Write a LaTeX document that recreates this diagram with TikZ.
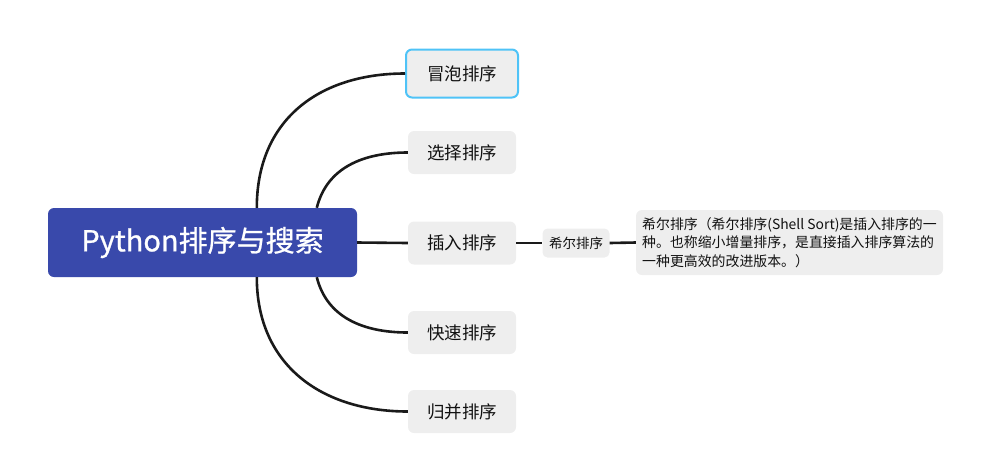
\documentclass[tikz,border=0pt]{standalone}
\usepackage{fontspec}
\setmainfont{Noto Sans CJK SC}
\newfontfamily\rootfont{Noto Sans CJK SC}[FakeBold=0.8]
\usetikzlibrary{calc}
\definecolor{rootblue}{HTML}{3949AB}
\definecolor{boxgray}{HTML}{EEEEEE}
\definecolor{selblue}{HTML}{4FC3F7}
\definecolor{linec}{HTML}{1A1A1A}
\definecolor{txt}{HTML}{111111}
\tikzset{
  rootbox/.style={fill=rootblue, rounded corners=6pt, minimum width=309pt, minimum height=69pt, inner sep=0pt, text=white, font=\rootfont\fontsize{29}{33}\selectfont},
  childbox/.style={fill=boxgray, rounded corners=6pt, minimum width=108pt, minimum height=43pt, inner sep=0pt, text=txt, font=\fontsize{17.5}{20}\selectfont},
  smallbox/.style={fill=boxgray, rounded corners=5pt, minimum width=67pt, minimum height=29pt, inner sep=0pt, text=txt, font=\fontsize{13.5}{16}\selectfont},
  notebox/.style={fill=boxgray, rounded corners=6pt, minimum width=307pt, minimum height=65pt, inner xsep=5pt, inner ysep=0pt, text=txt, align=left, font=\fontsize{13.9}{18.3}\selectfont},
  conn/.style={draw=linec, line width=2.6pt},
}
\begin{document}
\begin{tikzpicture}[x=1pt,y=-1pt]
\useasboundingbox (0,0) rectangle (1006,475);
\node[rootbox] (root) at (202.5,242.5) {Python排序与搜索};
\node[childbox, minimum width=112pt, minimum height=48pt, draw=selblue, line width=2pt] (bubble) at (462,73.5) {冒泡排序};
\node[childbox] (select) at (462,152.5) {选择排序};
\node[childbox] (insert) at (462,243) {插入排序};
\node[childbox] (quick) at (462,332.5) {快速排序};
\node[childbox] (merge) at (462,411.5) {归并排序};
\node[smallbox] (shell) at (576,243) {希尔排序};
\node[notebox] (note) at (789.5,242.5) {希尔排序（希尔排序(Shell Sort)是插入排序的一\\种。也称缩小增量排序，是直接插入排序算法的\\一种更高效的改进版本。）};
\draw[conn] ([xshift=209pt]root.north west) .. controls +(0,-88) and +(-86,0) .. (bubble.west);
\draw[conn] ([xshift=269pt]root.north west) .. controls +(10,-40) and +(-45,0) .. (select.west);
\draw[conn] (root.east) -- (insert.west);
\draw[conn] ([xshift=269pt]root.south west) .. controls +(10,40) and +(-45,0) .. (quick.west);
\draw[conn] ([xshift=209pt]root.south west) .. controls +(0,88) and +(-86,0) .. (merge.west);
\draw[conn] (insert.east) -- (shell.west);
\draw[conn] (shell.east) -- (note.west);
\end{tikzpicture}
\end{document}
